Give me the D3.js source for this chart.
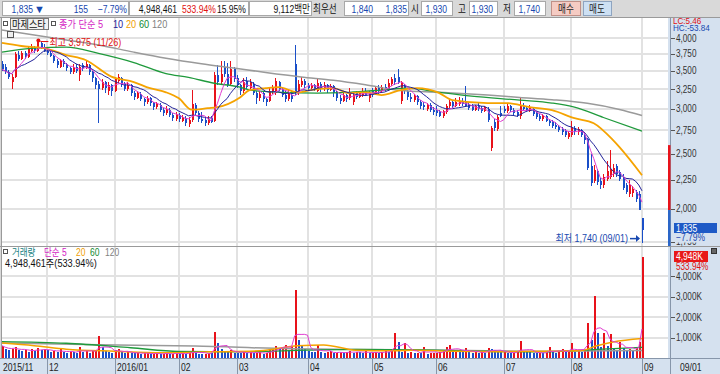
<!DOCTYPE html>
<html>
<head>
<meta charset="utf-8">
<script src="https://cdn.jsdelivr.net/npm/d3@7"></script>
<style>
  body { margin: 0; background: #fff; }
  svg text { font-family: "Liberation Sans", "Noto Sans CJK KR", sans-serif; font-size: 10px; }
</style>
</head>
<body>
<svg id="chart" width="720" height="374"></svg>
<script>
// trading days per month, 2015/11 .. 2016/09
var monthDays = [14, 21, 20, 18, 22, 20, 20, 21, 21, 22, 1];
var monthLabels = ['2015/11', '12', '2016/01', '02', '03', '04', '05', '06', '07', '08', '09'];
var priceTicks = [4000, 3750, 3500, 3250, 3000, 2750, 2500, 2250, 2000, 1750];
var volumeTicks = [1000, 2000, 3000, 4000]; // K

var opens = [
  3600,3560,3490,3340,3420,3740,3680,3760,3700,3800,3850,3790,3920,3850,
  3800,3760,3720,3640,3560,3640,3600,3540,3480,3560,3440,3580,3540,3580,3480,3400,3320,3260,3340,3220,3300,
  3230,3360,3400,3320,3250,3300,3200,3140,3190,3120,3080,3130,3070,3020,3050,2990,2950,2990,2930,2880,
  2930,2860,2890,2820,2870,3050,2950,2880,2870,2830,2890,2860,3440,3350,3560,3450,3320,3520,
  3400,3300,3220,3360,3260,3320,3200,3130,3200,3120,3100,3220,3200,3340,3250,3180,3120,3180,3600,3200,3300,3360,
  3300,3260,3300,3230,3320,3250,3300,3240,3290,3200,3140,3100,3170,3130,3080,3200,3150,3170,3230,3130,
  3220,3190,3260,3220,3280,3240,3320,3400,3420,3100,3300,3220,3150,3110,3160,3090,3050,3000,3050,2990,
  2990,2960,2910,2960,3030,3080,3040,3060,3100,3080,3060,3030,2990,3040,3010,2980,3000,2560,2850,2760,2950,
  3000,2970,3030,2990,2960,2920,3040,3010,2980,3000,2950,2910,2880,2910,2860,2840,2810,2790,2760,2740,2680,
  2700,2780,2730,2750,2700,2650,2380,2240,2330,2240,2200,2260,2280,2300,2380,2320,2280,2200,2120,2130,2140,2120,
  1930
];
var highs = [
  3640,3600,3510,3450,3780,3790,3800,3790,3850,3900,3880,3975,3940,3900,
  3850,3800,3740,3670,3680,3680,3620,3560,3600,3600,3600,3620,3640,3600,3500,3420,3360,3380,3360,3340,3320,
  3420,3460,3420,3340,3340,3320,3230,3230,3210,3140,3160,3150,3090,3080,3070,3010,3030,3010,2950,2960,
  2950,2930,2910,2900,3240,3070,2980,2960,2900,2920,2910,3480,3580,3640,3650,3620,3640,3560,
  3440,3320,3400,3420,3380,3340,3230,3220,3230,3140,3260,3300,3400,3360,3280,3220,3240,3220,3890,3370,3420,3380,
  3330,3330,3320,3400,3350,3340,3320,3320,3300,3220,3170,3200,3190,3260,3200,3230,3230,3260,3260,3220,
  3260,3290,3300,3310,3320,3380,3420,3460,3520,3360,3320,3240,3200,3190,3180,3110,3090,3070,3070,3020,
  3030,2990,2990,3060,3120,3110,3140,3150,3130,3290,3090,3060,3050,3070,3040,3040,3020,2800,2880,2930,3040,
  3040,3060,3050,3010,2990,3150,3070,3040,3050,3020,2970,2940,2940,2930,2880,2870,2840,2810,2790,2760,2740,
  2860,2800,2790,2770,2720,2670,2500,2390,2350,2270,2300,2430,2540,2400,2400,2340,2300,2220,2250,2190,2160,2150,
  1930
];
var lows = [
  3500,3460,3380,3250,3400,3640,3660,3680,3690,3780,3770,3780,3820,3780,
  3740,3700,3620,3540,3540,3560,3500,3450,3460,3470,3360,3500,3520,3440,3350,3250,2830,3240,3200,3180,3160,
  3210,3330,3280,3220,3230,3160,3110,3120,3100,3040,3060,3040,2990,3000,2960,2920,2930,2900,2860,2860,
  2850,2840,2800,2790,2850,2920,2850,2830,2800,2810,2830,2850,3300,3320,3420,3280,3300,3350,
  3260,3170,3200,3250,3240,3170,3060,3100,3090,3040,3080,3190,3180,3220,3150,3080,3100,3090,3180,3180,3280,3270,
  3240,3240,3220,3210,3210,3230,3200,3220,3150,3100,3060,3080,3090,3110,3050,3120,3130,3150,3160,3080,
  3150,3170,3190,3200,3220,3220,3290,3300,3320,3060,3190,3110,3080,3090,3050,3000,2990,2980,2960,2930,
  2920,2900,2890,2940,3010,3010,3020,3040,3030,3020,2990,2970,2970,2980,2950,2960,2840,2530,2740,2740,2900,
  2950,2950,2960,2920,2900,2880,2980,2960,2960,2910,2880,2860,2860,2840,2800,2780,2760,2730,2700,2680,2660,
  2680,2700,2700,2680,2600,2340,2190,2220,2200,2170,2180,2240,2260,2280,2280,2240,2160,2120,2100,2100,2060,1990,
  1740
];
var closes = [
  3520,3480,3420,3420,3750,3680,3760,3700,3820,3860,3790,3930,3850,3800,
  3760,3720,3640,3580,3640,3600,3540,3480,3560,3500,3560,3540,3600,3480,3400,3300,3250,3340,3270,3300,3220,
  3380,3420,3320,3250,3310,3200,3150,3200,3120,3080,3130,3070,3020,3060,2990,2950,3000,2930,2890,2930,
  2880,2900,2830,2870,3060,2950,2880,2860,2830,2880,2850,3440,3350,3450,3450,3300,3520,3380,
  3300,3220,3340,3280,3340,3200,3130,3190,3120,3080,3220,3260,3360,3250,3180,3120,3200,3120,3200,3320,3360,3300,
  3260,3300,3250,3330,3250,3300,3240,3290,3200,3130,3100,3170,3120,3210,3180,3150,3200,3230,3180,3190,
  3180,3260,3220,3280,3240,3330,3380,3350,3340,3340,3220,3150,3120,3160,3090,3040,3020,3050,2990,2960,
  2950,2920,2970,3030,3090,3040,3090,3100,3060,3040,3010,2990,3030,3000,2970,3020,2870,2780,2780,2900,2920,
  2970,3030,2990,2950,2930,3030,3000,2980,3020,2940,2900,2880,2920,2860,2830,2800,2790,2750,2730,2700,2720,
  2780,2740,2760,2700,2640,2360,2220,2340,2230,2200,2280,2330,2350,2360,2300,2260,2180,2140,2200,2170,2080,1990,
  1835
];
// volume, thousands of shares
var volumes = [
  600,450,380,420,550,400,350,380,300,420,350,500,380,420,
  380,300,350,280,420,300,250,330,280,260,550,300,320,260,340,400,1080,520,350,300,250,
  400,450,280,220,300,250,220,260,200,230,260,180,200,240,190,210,250,180,200,260,
  200,230,180,220,480,260,200,180,200,260,220,1270,730,420,350,280,400,260,
  250,220,320,240,280,220,260,300,200,220,380,420,600,500,550,620,400,550,3300,900,600,420,
  350,300,280,630,300,250,280,320,220,260,300,240,280,350,260,300,280,250,320,230,
  260,300,250,280,320,300,400,1220,800,300,730,260,300,220,250,230,550,200,230,250,
  250,300,350,550,630,300,400,350,280,500,300,250,280,260,300,250,500,450,380,300,280,
  300,260,230,250,280,830,350,300,280,250,230,260,240,280,550,300,260,280,450,300,350,
  730,300,350,300,400,1700,900,3020,1200,550,1200,600,1150,500,400,800,500,400,450,400,500,781,
  4948
];

// longer averages as [day index, value]
var ma20Points = [[0,3920],[6,3872],[13,3840],[20,3733],[26,3658],[34,3420],[41,3345],[46,3263],[51,3209],[55,3131],[59,2990],[64,3009],[67,3021],[74,3143],[77,3238],[82,3263],[86,3276],[92,3209],[96,3238],[103,3263],[108,3199],[113,3209],[118,3173],[124,3238],[129,3263],[136,3199],[140,3109],[151,3072],[157,3072],[164,3022],[171,2985],[178,2889],[184,2830],[190,2642],[192,2568],[199,2292]];
var ma60Points = [[0,3777],[10,3840],[20,3856],[30,3757],[41,3620],[51,3462],[58,3409],[66,3329],[74,3276],[77,3238],[87,3209],[98,3199],[108,3209],[118,3238],[126,3263],[136,3209],[146,3160],[161,3109],[171,3072],[178,3022],[187,2897],[199,2742]];
var ma120Points = [[0,4132],[10,4049],[20,3968],[30,3888],[41,3777],[51,3686],[62,3604],[72,3541],[82,3478],[93,3416],[103,3370],[113,3309],[124,3232],[136,3209],[151,3173],[161,3143],[171,3114],[182,3068],[192,2993],[199,2920]];
var volMa20Points = [[0,730],[10,600],[20,430],[35,330],[50,260],[65,300],[80,350],[92,600],[100,640],[110,380],[122,350],[128,380],[140,330],[155,310],[170,330],[180,360],[185,600],[190,780],[199,950]];
var volMa60Points = [[0,800],[20,720],[40,500],[55,320],[75,300],[95,380],[110,420],[130,400],[150,330],[170,300],[185,420],[199,520]];
var volMa120Points = [[0,730],[30,650],[60,580],[90,450],[110,420],[140,380],[170,330],[199,370]];

var highDate = '11/26', lowDate = '09/01';
var sideBar = [2590, 1990, 1740];

var UP = '#e8121a', DOWN = '#1a4fc8';
var BLUE_TXT = '#1848b0', RED_TXT = '#e01010';
var AXIS_BG = '#d5e1ef';
var MA_COLORS = { m5: '#e03cd0', m10: '#22229a', m20: '#f5a300', m60: '#1f9a3c', m120: '#9a9a9a' };

var svg = d3.select('#chart');
var fmt = d3.format(',');

var x = d3.scaleBand().domain(d3.range(closes.length)).range([0.4, 643.6]).paddingInner(0.3).paddingOuter(0.15);
function cx(i) { return x(i) + x.bandwidth() / 2; }
var y = d3.scaleLog().domain([1750, 4000]).range([241.7, 38]);
var yv = d3.scaleLinear().domain([0, 4000]).range([358, 276]);

var monthStarts = [];
monthDays.reduce(function(acc, n) { monthStarts.push(acc); return acc + n; }, 0);

function sma(arr, n) {
  return arr.map(function(d, i) { return d3.mean(arr.slice(Math.max(0, i - n + 1), i + 1)); });
}

// text squeezed sideways, the HTS font is narrow
function label(parent, tx, ty, txt, o) {
  o = o || {};
  return parent.append('text')
    .attr('transform', 'translate(' + tx + ',' + ty + ') scale(' + (o.sx || 1) + ',1)')
    .attr('text-anchor', o.anchor || 'start')
    .attr('fill', o.color || '#222')
    .style('font-size', (o.size || 10) + 'px')
    .text(txt);
}

// ---------- backgrounds ----------
svg.append('rect').attr('x', 0).attr('y', 0).attr('width', 720).attr('height', 374).attr('fill', '#d9d9d9');
svg.append('rect').attr('x', 2).attr('y', 17).attr('width', 666).attr('height', 341).attr('fill', '#fff');
svg.append('rect').attr('x', 668).attr('y', 17).attr('width', 52).attr('height', 341).attr('fill', AXIS_BG);
svg.append('rect').attr('x', 0).attr('y', 358).attr('width', 720).attr('height', 16).attr('fill', AXIS_BG);

// ---------- header ----------
var header = svg.append('g');
var boxes = [[2, 126], [129, 119], [249, 62], [344, 64], [421, 31], [469, 28], [514, 31]];
header.selectAll('rect.box').data(boxes).enter().append('rect')
  .attr('class', 'box')
  .attr('x', function(d) { return d[0] + 0.5; })
  .attr('y', 1.5)
  .attr('width', function(d) { return d[1]; })
  .attr('height', 14)
  .attr('fill', '#fff')
  .attr('stroke', '#a8a8a8');
var buttons = [
  { t: '매수', x: 551, w: 29, fill: '#f5cbc3', stroke: '#c09088' },
  { t: '매도', x: 583, w: 28, fill: '#cde0f3', stroke: '#8ea4c0' }
];
header.selectAll('rect.btn').data(buttons).enter().append('rect')
  .attr('class', 'btn')
  .attr('x', function(d) { return d.x + 0.5; })
  .attr('y', 1.5)
  .attr('width', function(d) { return d.w; })
  .attr('height', 14)
  .attr('fill', function(d) { return d.fill; })
  .attr('stroke', function(d) { return d.stroke; });

var last = closes.length - 1;
var change = closes[last] - closes[last - 1];
var pct = change / closes[last - 1] * 100;
var headerTexts = [
  { t: fmt(closes[last]), x: 33, a: 'end', c: BLUE_TXT },
  { t: '▼', x: 34, a: 'start', c: BLUE_TXT, s: 11, sx: 1 },
  { t: fmt(Math.abs(change)), x: 88, a: 'end', c: BLUE_TXT },
  { t: d3.format('.2f')(pct) + '%', x: 127, a: 'end', c: BLUE_TXT },
  { t: '4,948,461', x: 177, a: 'end', c: '#111' },
  { t: '533.94%', x: 182, a: 'start', c: RED_TXT },
  { t: '15.95%', x: 246, a: 'end', c: '#111' },
  { t: '9,112백만', x: 310, a: 'end', c: '#111' },
  { t: '최우선', x: 313, a: 'start', c: '#111' },
  { t: '1,840', x: 373, a: 'end', c: BLUE_TXT },
  { t: fmt(closes[last]), x: 407, a: 'end', c: BLUE_TXT },
  { t: '시', x: 411, a: 'start', c: '#111' },
  { t: fmt(opens[last]), x: 447, a: 'end', c: BLUE_TXT },
  { t: '고', x: 458, a: 'start', c: '#111' },
  { t: fmt(highs[last]), x: 493, a: 'end', c: BLUE_TXT },
  { t: '저', x: 503, a: 'start', c: '#111' },
  { t: fmt(lows[last]), x: 540, a: 'end', c: BLUE_TXT },
  { t: '매수', x: 566, a: 'middle', c: '#222' },
  { t: '매도', x: 597, a: 'middle', c: '#222' }
];
headerTexts.forEach(function(d) {
  label(header, d.x, 12.5, d.t, { anchor: d.a, color: d.c, size: d.s || 11, sx: d.sx || 0.78 });
});

// ---------- grid ----------
var grid = svg.append('g').attr('shape-rendering', 'crispEdges');
grid.selectAll('line.ph').data(priceTicks).enter().append('line')
  .attr('x1', 2).attr('x2', 668)
  .attr('y1', function(d) { return Math.round(y(d)); })
  .attr('y2', function(d) { return Math.round(y(d)); })
  .attr('stroke', '#e2e2e2').attr('stroke-width', 2);
grid.selectAll('line.vh').data(volumeTicks).enter().append('line')
  .attr('x1', 2).attr('x2', 668)
  .attr('y1', function(d) { return Math.round(yv(d)); })
  .attr('y2', function(d) { return Math.round(yv(d)); })
  .attr('stroke', '#e2e2e2').attr('stroke-width', 2);
grid.selectAll('line.mv').data(monthStarts.slice(1)).enter().append('line')
  .attr('x1', function(d) { return Math.round(cx(d)); })
  .attr('x2', function(d) { return Math.round(cx(d)); })
  .attr('y1', 17).attr('y2', 358)
  .attr('stroke', '#e2e2e2').attr('stroke-width', 2);

// panel separators
svg.append('line').attr('x1', 0).attr('x2', 720).attr('y1', 246.5).attr('y2', 246.5).attr('stroke', '#9a9a9a');
svg.append('line').attr('x1', 0).attr('x2', 720).attr('y1', 358.5).attr('y2', 358.5).attr('stroke', '#8796aa');
svg.append('line').attr('x1', 670.5).attr('x2', 670.5).attr('y1', 17).attr('y2', 374).attr('stroke', '#8796aa');
svg.append('line').attr('x1', 1.5).attr('x2', 1.5).attr('y1', 17).attr('y2', 358).attr('stroke', '#9a9a9a');
svg.append('line').attr('x1', 0).attr('x2', 720).attr('y1', 17.5).attr('y2', 17.5).attr('stroke', '#9a9a9a');

// ---------- candles ----------
var candles = svg.append('g').attr('shape-rendering', 'crispEdges');
var days = d3.range(closes.length);
candles.selectAll('line').data(days).enter().append('line')
  .attr('x1', function(i) { return Math.round(cx(i)) + 0.5; })
  .attr('x2', function(i) { return Math.round(cx(i)) + 0.5; })
  .attr('y1', function(i) { return y(highs[i]); })
  .attr('y2', function(i) { return y(lows[i]); })
  .attr('stroke', function(i) { return closes[i] >= opens[i] ? UP : DOWN; });
candles.selectAll('rect').data(days).enter().append('rect')
  .attr('x', function(i) { return Math.round(cx(i)) - 0.5; })
  .attr('width', 2)
  .attr('y', function(i) { return y(Math.max(opens[i], closes[i])); })
  .attr('height', function(i) { return Math.max(1, Math.abs(y(opens[i]) - y(closes[i]))); })
  .attr('fill', function(i) { return closes[i] >= opens[i] ? UP : DOWN; });

// ---------- moving averages ----------
var lineIdx = d3.line().x(function(d, i) { return cx(i); }).y(function(d) { return y(d); });
var linePts = d3.line().x(function(d) { return cx(d[0]); }).y(function(d) { return y(d[1]); }).curve(d3.curveMonotoneX);
var maG = svg.append('g').attr('fill', 'none');
maG.append('path').attr('d', linePts(ma120Points)).attr('stroke', MA_COLORS.m120).attr('stroke-width', 1.5);
maG.append('path').attr('d', linePts(ma60Points)).attr('stroke', MA_COLORS.m60).attr('stroke-width', 1.3);
maG.append('path').attr('d', linePts(ma20Points)).attr('stroke', MA_COLORS.m20).attr('stroke-width', 1.8);
maG.append('path').attr('d', lineIdx(sma(closes, 10))).attr('stroke', MA_COLORS.m10).attr('stroke-width', 1);
maG.append('path').attr('d', lineIdx(sma(closes, 5))).attr('stroke', MA_COLORS.m5).attr('stroke-width', 1);

// ---------- volume ----------
var vols = svg.append('g').attr('shape-rendering', 'crispEdges');
vols.selectAll('rect').data(days).enter().append('rect')
  .attr('x', function(i) { return Math.round(cx(i)) - 0.5; })
  .attr('width', 2)
  .attr('y', function(i) { return yv(volumes[i]); })
  .attr('height', function(i) { return 358 - yv(volumes[i]); })
  .attr('fill', function(i) { return i === 0 || volumes[i] >= volumes[i - 1] ? UP : DOWN; });
var vlineIdx = d3.line().x(function(d, i) { return cx(i); }).y(function(d) { return yv(d); });
var vlinePts = d3.line().x(function(d) { return cx(d[0]); }).y(function(d) { return yv(d[1]); }).curve(d3.curveMonotoneX);
var vmaG = svg.append('g').attr('fill', 'none');
vmaG.append('path').attr('d', vlinePts(volMa120Points)).attr('stroke', MA_COLORS.m120).attr('stroke-width', 1.5);
vmaG.append('path').attr('d', vlinePts(volMa60Points)).attr('stroke', MA_COLORS.m60).attr('stroke-width', 1.3);
vmaG.append('path').attr('d', vlinePts(volMa20Points)).attr('stroke', MA_COLORS.m20).attr('stroke-width', 1.5);
vmaG.append('path').attr('d', vlineIdx(sma(volumes, 5))).attr('stroke', MA_COLORS.m5).attr('stroke-width', 1);

// ---------- price legend ----------
var leg = svg.append('g');
leg.append('rect').attr('x', 3.5).attr('y', 21.5).attr('width', 4).attr('height', 4).attr('fill', '#fff').attr('stroke', '#555');
leg.append('rect').attr('x', 10.5).attr('y', 18.5).attr('width', 38).attr('height', 11).attr('fill', '#f2f2f2').attr('stroke', '#777');
label(leg, 12, 27.5, '마제스타', { color: '#111', sx: 0.92 });
leg.append('rect').attr('x', 51.5).attr('y', 21.5).attr('width', 4).attr('height', 4).attr('fill', '#fff').attr('stroke', '#555');
var legItems = [
  { t: '종가 단순 5', x: 59, c: '#d41cc4' },
  { t: '10', x: 113, c: MA_COLORS.m10 },
  { t: '20', x: 126, c: '#f0a000' },
  { t: '60', x: 139, c: '#108a30' },
  { t: '120', x: 152, c: '#808080' }
];
legItems.forEach(function(d) { label(leg, d.x, 27.5, d.t, { color: d.c, sx: 0.92 }); });
leg.append('rect').attr('x', 7.5).attr('y', 31.5).attr('width', 6).attr('height', 6).attr('fill', '#eee').attr('stroke', '#555');

// high / low markers
var iHigh = d3.maxIndex(highs), iLow = d3.minIndex(lows);
svg.append('circle').attr('cx', cx(iHigh) + 1).attr('cy', y(highs[iHigh]) + 1).attr('r', 2).attr('fill', RED_TXT);
svg.append('line').attr('x1', cx(iHigh) + 3).attr('x2', cx(iHigh) + 11)
  .attr('y1', y(highs[iHigh]) + 2).attr('y2', y(highs[iHigh]) + 2).attr('stroke', RED_TXT);
label(svg, cx(iHigh) + 12, y(highs[iHigh]) + 6, '최고 ' + fmt(highs[iHigh]) + ' (' + highDate + ')',
  { color: RED_TXT, sx: 0.9 });
label(svg, cx(iLow) - 14, y(lows[iLow]) - 1, '최저 ' + fmt(lows[iLow]) + ' (' + lowDate + ')',
  { color: BLUE_TXT, anchor: 'end', sx: 0.9 });
svg.append('line').attr('x1', cx(iLow) - 12).attr('x2', cx(iLow) - 3)
  .attr('y1', y(lows[iLow]) - 4.5).attr('y2', y(lows[iLow]) - 4.5).attr('stroke', BLUE_TXT).attr('stroke-width', 1.5);
svg.append('path')
  .attr('d', d3.line()([[cx(iLow) - 6, y(lows[iLow]) - 8], [cx(iLow) - 2, y(lows[iLow]) - 4.5], [cx(iLow) - 6, y(lows[iLow]) - 1]]))
  .attr('fill', BLUE_TXT);

// ---------- right price axis ----------
var ax = svg.append('g');
ax.append('rect').attr('x', 668).attr('y', y(sideBar[0])).attr('width', 2.5)
  .attr('height', y(sideBar[1]) - y(sideBar[0])).attr('fill', UP);
ax.append('rect').attr('x', 668).attr('y', y(sideBar[1])).attr('width', 2.5)
  .attr('height', 246 - y(sideBar[1])).attr('fill', '#2a66c8');
ax.selectAll('line.pt').data(priceTicks).enter().append('line')
  .attr('x1', 671).attr('x2', 675)
  .attr('y1', function(d) { return Math.round(y(d)) + 0.5; })
  .attr('y2', function(d) { return Math.round(y(d)) + 0.5; })
  .attr('stroke', '#555');
priceTicks.forEach(function(d) { label(ax, 676, y(d) + 3.5, fmt(d), { color: '#333', sx: 0.82 }); });
// LC / HC readout sits over the top tick
ax.append('rect').attr('x', 672).attr('y', 18).attr('width', 46).attr('height', 15).attr('fill', AXIS_BG);
label(ax, 673, 23.5, 'LC:5.46', { color: RED_TXT, size: 9, sx: 0.9 });
label(ax, 673, 30.5, 'HC:-53.84', { color: BLUE_TXT, size: 9, sx: 0.9 });
// current price tag
ax.append('rect').attr('x', 674).attr('y', y(closes[last]) - 7).attr('width', 43).attr('height', 10).attr('fill', '#1e5ac6');
label(ax, 676, y(closes[last]) + 1.5, fmt(closes[last]), { color: '#fff', sx: 0.85 });
ax.append('rect').attr('x', 675).attr('y', y(closes[last]) + 3.5).attr('width', 36).attr('height', 9).attr('fill', AXIS_BG);
label(ax, 676, y(closes[last]) + 11, d3.format('.2f')(pct) + '%', { color: BLUE_TXT, sx: 0.85 });

// ---------- volume legend & axis ----------
var vleg = svg.append('g');
vleg.append('rect').attr('x', 3.5).attr('y', 249.5).attr('width', 4).attr('height', 4).attr('fill', '#fff').attr('stroke', '#555');
var vlegItems = [
  { t: '거래량', x: 12, c: '#138080' },
  { t: '단순 5', x: 44, c: '#d41cc4' },
  { t: '20', x: 76, c: '#f0a000' },
  { t: '60', x: 90, c: '#108a30' },
  { t: '120', x: 105, c: '#808080' }
];
vlegItems.forEach(function(d) { label(vleg, d.x, 255.5, d.t, { color: d.c, sx: 0.85 }); });
label(vleg, 5, 267, '4,948,461주(533.94%)', { color: '#111', sx: 0.92 });

var vax = svg.append('g');
vax.selectAll('line').data(volumeTicks).enter().append('line')
  .attr('x1', 671).attr('x2', 675)
  .attr('y1', function(d) { return Math.round(yv(d)) + 0.5; })
  .attr('y2', function(d) { return Math.round(yv(d)) + 0.5; })
  .attr('stroke', '#555');
volumeTicks.forEach(function(d) { label(vax, 676, yv(d) + 3.5, fmt(d) + 'K', { color: '#333', sx: 0.82 }); });
vax.append('rect').attr('x', 674).attr('y', 251).attr('width', 34).attr('height', 11).attr('fill', '#e81818');
label(vax, 676, 260, fmt(volumes[last]) + 'K', { color: '#fff', sx: 0.85 });
label(vax, 676, 270, '533.94%', { color: RED_TXT, sx: 0.82 });
vax.append('rect').attr('x', 711.5).attr('y', 248.5).attr('width', 5).attr('height', 5).attr('fill', '#666').attr('stroke', '#333');

// ---------- bottom date axis ----------
var dax = svg.append('g');
dax.selectAll('line').data(monthStarts.slice(1)).enter().append('line')
  .attr('x1', function(d) { return Math.round(cx(d)) + 0.5; })
  .attr('x2', function(d) { return Math.round(cx(d)) + 0.5; })
  .attr('y1', 359).attr('y2', 374)
  .attr('stroke', '#8796aa');
monthStarts.forEach(function(d, i) {
  label(dax, i === 0 ? 3 : Math.round(cx(d)) + 2, 370.5, monthLabels[i], { size: 11, sx: 0.78 });
});
label(dax, 680, 370.5, lowDate, { size: 11, sx: 0.78 });
</script>
</body>
</html>
